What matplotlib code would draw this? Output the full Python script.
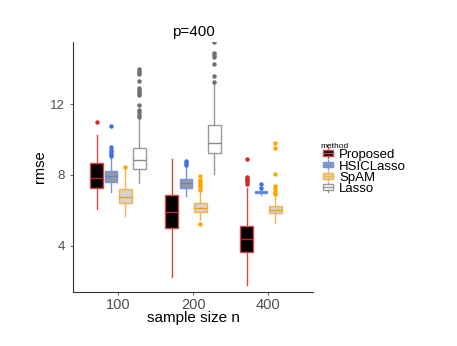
import matplotlib
matplotlib.use("Agg")
import matplotlib.pyplot as plt
from matplotlib.legend_handler import HandlerBase
from matplotlib.patches import Rectangle
from matplotlib.lines import Line2D

plt.rcParams['font.family'] = ['Liberation Sans', 'DejaVu Sans']

# sample sizes and methods
groups = ["100", "200", "400"]
methods = ["Proposed", "HSICLasso", "SpAM", "Lasso"]

# box statistics (per method, one entry per group; None = missing)
q1 = {"Proposed": [7.26, 4.98, 3.64], "HSICLasso": [7.62, 7.28, 6.96],
      "SpAM": [6.39, 5.92, 5.83], "Lasso": [8.32, 9.23, None]}
med = {"Proposed": [7.81, 5.90, 4.36], "HSICLasso": [7.94, 7.53, 7.02],
       "SpAM": [6.77, 6.15, 6.02], "Lasso": [8.83, 9.83, None]}
q3 = {"Proposed": [8.70, 6.89, 5.11], "HSICLasso": [8.23, 7.77, 7.08],
      "SpAM": [7.19, 6.39, 6.23], "Lasso": [9.51, 10.83, None]}
whislo = {"Proposed": [6.06, 2.24, 1.77], "HSICLasso": [7.05, 6.83, 6.87],
          "SpAM": [5.68, 5.45, 5.30], "Lasso": [7.56, 8.06, None]}
whishi = {"Proposed": [10.27, 8.91, 7.25], "HSICLasso": [9.08, 8.47, 7.15],
          "SpAM": [8.40, 7.34, 6.83], "Lasso": [11.2, 13.2, None]}
fliers = {
    "Proposed": [[11.0], [], [8.93, 7.9, 7.8, 7.7, 7.6, 7.49]],
    "HSICLasso": [[10.8, 9.6, 9.4, 9.3, 9.2, 9.1], [8.81, 8.69, 8.57], [7.51, 7.25]],
    "SpAM": [[8.45], [7.96, 7.7, 7.6, 7.5, 7.4, 7.3, 7.15, 5.24],
             [9.8, 9.55, 8.06, 7.38, 7.25, 7.1, 7.0, 6.9]],
    "Lasso": [[14.0, 13.9, 13.8, 13.7, 13.34, 12.95, 12.8, 12.7, 12.6, 12.53,
               11.95, 11.7, 11.55, 11.4, 11.3], [15.55, 14.9, 14.8, 14.7, 14.3, 13.6, 13.27], []],
}

fills = {"Proposed": "black", "HSICLasso": "#999999", "SpAM": "#d3d3d3", "Lasso": "white"}
edges = {"Proposed": "#d9474a", "HSICLasso": "#6f94e8", "SpAM": "#f6b445", "Lasso": "#999999"}
pts = {"Proposed": "#d62728", "HSICLasso": "#3d6ff0", "SpAM": "#ffa500", "Lasso": "#707070"}
meds = {"Proposed": "#c0272d", "HSICLasso": "#5a82d8", "SpAM": "#f0a020", "Lasso": "#888888"}

fig = plt.figure(figsize=(4.57, 3.46), dpi=100)
ax = fig.add_axes([0.160, 0.156, 0.525, 0.723])

offsets = [-0.285, -0.095, 0.095, 0.285]
for m, off in zip(methods, offsets):
    stats, pos = [], []
    for i in range(len(groups)):
        if q1[m][i] is None:
            continue
        stats.append(dict(q1=q1[m][i], med=med[m][i], q3=q3[m][i],
                          whislo=whislo[m][i], whishi=whishi[m][i], fliers=fliers[m][i]))
        pos.append(i + 1 + off)
    ax.bxp(stats, positions=pos, widths=0.17, patch_artist=True, showcaps=False,
           boxprops=dict(facecolor=fills[m], edgecolor=edges[m], linewidth=1.0),
           whiskerprops=dict(color=edges[m], linewidth=1.0),
           medianprops=dict(color=meds[m], linewidth=1.0),
           flierprops=dict(marker='o', markersize=2.2, markerfacecolor=pts[m],
                           markeredgecolor=pts[m], linestyle='none'))

ax.set_xlim(0.4, 3.6)
ax.set_ylim(1.37, 15.54)
ax.set_xticks([1, 2, 3])
ax.set_xticklabels(groups)
ax.set_yticks([4, 8, 12])
ax.tick_params(axis='both', colors='#4d4d4d', length=2.5, width=0.6)
ax.tick_params(axis='x', labelsize=10.5, pad=2)
ax.tick_params(axis='y', labelsize=9.5)
for s in ['top', 'right']:
    ax.spines[s].set_visible(False)
for s in ['left', 'bottom']:
    ax.spines[s].set_color('#333333')
    ax.spines[s].set_linewidth(0.8)
ax.set_xlabel("sample size n", fontsize=11, labelpad=-1)
ax.set_ylabel("rmse", fontsize=10.5, labelpad=2)
ax.set_title("p=400", fontsize=11, pad=4)


class BoxHandler(HandlerBase):
    def create_artists(self, legend, orig, xd, yd, width, height, fontsize, trans):
        fc, ec = orig.get_facecolor(), orig.get_edgecolor()
        w = width * 0.7
        x0 = xd + (width - w) / 2
        r = Rectangle((x0, yd + height * 0.2), w, height * 0.6, facecolor=fc,
                      edgecolor=ec, linewidth=1.0, transform=trans)
        l1 = Line2D([x0, x0 + w], [yd + height / 2] * 2, color=ec, lw=1.0, transform=trans)
        l2 = Line2D([x0 + w / 2] * 2, [yd, yd + height * 0.2], color=ec, lw=1.0, transform=trans)
        l3 = Line2D([x0 + w / 2] * 2, [yd + height * 0.8, yd + height], color=ec, lw=1.0, transform=trans)
        return [r, l1, l2, l3]


handles = [Rectangle((0, 0), 1, 1, facecolor=fills[m], edgecolor=edges[m]) for m in methods]
leg = fig.legend(handles, methods, loc='upper left', bbox_to_anchor=(0.702, 0.587),
                 frameon=False, fontsize=9.5, title="method", title_fontsize=6,
                 handler_map={Rectangle: BoxHandler()}, handlelength=1.05, handleheight=0.75,
                 handletextpad=0.35, labelspacing=-0.08, borderaxespad=0, borderpad=0)
leg._legend_box.align = "left"

fig.savefig("out.png", dpi=100)
